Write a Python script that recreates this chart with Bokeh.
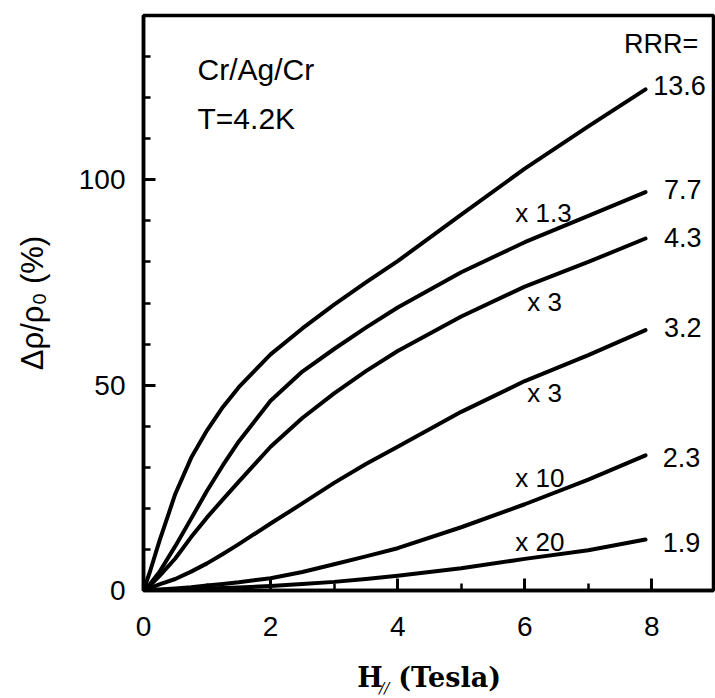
from bokeh.plotting import figure
from bokeh.layouts import column
from bokeh.models import ColumnDataSource, FixedTicker, Range1d
from bokeh.core.properties import value
from bokeh.embed import file_html
from bokeh.resources import INLINE

# Field H (Tesla)
H = [0, 0.1, 0.25, 0.5, 0.75, 1, 1.25, 1.5, 2, 2.5, 3, 3.5, 4, 5, 6, 7, 7.9]
# Delta rho / rho0 (%) for each RRR
rrr_13_6 = [0, 4.5, 12, 23.5, 32.3, 39, 44.7, 49.5, 57.5, 63.8, 69.6, 75, 80.2, 91.5, 102.7, 113, 122]
rrr_7_7 = [0, 1.5, 4.5, 10.8, 17.5, 24.3, 30.5, 36.3, 46.2, 53.3, 58.8, 64, 68.9, 77.5, 84.8, 91.2, 97]
rrr_4_3 = [0, 1.2, 3.5, 7.8, 13, 17.8, 22.2, 26.5, 35, 42, 48, 53.4, 58.3, 66.7, 74, 80, 85.7]
rrr_3_2 = [0, 0.6, 1.5, 2.8, 4.6, 6.6, 8.9, 11.3, 16.3, 21.2, 26.2, 30.8, 35, 43.5, 51, 57.3, 63.4]
rrr_2_3 = [0, 0.1, 0.25, 0.5, 0.8, 1.2, 1.6, 2.0, 3.0, 4.5, 6.4, 8.3, 10.3, 15.4, 21, 27, 32.9]
rrr_1_9 = [0, 0.05, 0.12, 0.25, 0.37, 0.5, 0.62, 0.75, 1.1, 1.6, 2.1, 2.8, 3.6, 5.4, 7.7, 9.8, 12.4]
series = [rrr_13_6, rrr_7_7, rrr_4_3, rrr_3_2, rrr_2_3, rrr_1_9]

# RRR end labels
rrr_text = ["RRR=", "13.6", "7.7", "4.3", "3.2", "2.3", "1.9"]
rrr_x = [7.56, 8.02, 8.19, 8.19, 8.19, 8.17, 8.17]
rrr_y = [133, 123, 97.6, 86, 64, 32.4, 11.7]

# multiplier labels
mult_text = ["x 1.3", "x 3", "x 3", "x 10", "x 20"]
mult_x = [5.85, 6.04, 6.04, 5.85, 5.85]
mult_y = [92, 70.2, 48, 27.3, 11.7]

# header texts
head_text = ["Cr/Ag/Cr", "T=4.2K"]
head_x = [0.85, 0.85]
head_y = [126.8, 115]

x_ticks = [0, 2, 4, 6, 8]
x_minor = [1, 3, 5, 7]
y_ticks = [0, 50, 100]
y_minor = [10, 20, 30, 40, 60, 70, 80, 90, 110, 120, 130]

# x-axis title pieces (H with subscript //, then "(Tesla)")
xt_text = ["H", "(Tesla)"]
xt_x = [3.365, 4.01]
sub_text = ["//"]
sub_x = [3.71]

X0, X1 = 0, 8.97

p = figure(width=715, height=650, output_backend="svg", toolbar_location=None,
           x_range=Range1d(X0, X1), y_range=Range1d(0, 140),
           min_border_left=143, min_border_right=2, min_border_top=15,
           min_border_bottom=60)
p.background_fill_color = "white"
p.border_fill_color = "white"
p.grid.visible = False
p.outline_line_color = "black"
p.outline_line_width = 3.5

for ys in series:
    p.line(H, ys, line_color="black", line_width=4, line_join="round", line_cap="round")

FONT = value("Liberation Sans")
src_r = ColumnDataSource(dict(x=rrr_x, y=rrr_y, t=rrr_text))
p.text(x="x", y="y", text="t", source=src_r, text_font=FONT, text_font_size="27px",
       text_align="left", text_baseline="middle", text_color="black")
src_m = ColumnDataSource(dict(x=mult_x, y=mult_y, t=mult_text))
p.text(x="x", y="y", text="t", source=src_m, text_font=FONT, text_font_size="26px",
       text_align="left", text_baseline="middle", text_color="black")
src_h = ColumnDataSource(dict(x=head_x, y=head_y, t=head_text))
p.text(x="x", y="y", text="t", source=src_h, text_font=FONT, text_font_size="30px",
       text_align="left", text_baseline="middle", text_color="black")

for ax in (p.xaxis[0], p.yaxis[0]):
    ax.axis_line_width = 3.5
    ax.axis_line_color = "black"
    ax.major_tick_in = 12
    ax.major_tick_out = 0
    ax.minor_tick_in = 7
    ax.minor_tick_out = 0
    ax.major_tick_line_width = 3
    ax.minor_tick_line_width = 2.5
    ax.major_tick_line_color = "black"
    ax.minor_tick_line_color = "black"
    ax.major_label_text_font = "Liberation Sans"
    ax.major_label_text_font_size = "28px"
    ax.major_label_text_color = "black"

p.xaxis.ticker = FixedTicker(ticks=x_ticks, minor_ticks=x_minor)
p.yaxis.ticker = FixedTicker(ticks=y_ticks, minor_ticks=y_minor)
p.xaxis.major_label_standoff = 26
p.yaxis.major_label_standoff = 18

p.yaxis.axis_label = "Δρ/ρ₀ (%)"
p.yaxis.axis_label_text_font = "Liberation Sans"
p.yaxis.axis_label_text_font_style = "normal"
p.yaxis.axis_label_text_font_size = "31px"
p.yaxis.axis_label_standoff = 26
p.yaxis.axis_label_text_color = "black"

# strip below holding the x-axis title (so the subscript can be drawn)
p2 = figure(width=715, height=48, output_backend="svg", toolbar_location=None,
            title=None, x_range=Range1d(X0, X1), y_range=Range1d(0, 48),
            x_axis_location=None, y_axis_location=None, min_border=0,
            min_border_left=143, min_border_right=2)
p2.grid.visible = False
p2.outline_line_color = None
p2.background_fill_color = "white"
p2.border_fill_color = "white"
p2.text(x=xt_x, y=[21] * len(xt_x), text=xt_text, text_font=value("DejaVu Serif"),
        text_font_style="bold", text_font_size="27px", text_align="left",
        text_baseline="alphabetic", text_color="black")
p2.text(x=sub_x, y=[11], text=sub_text, text_font=value("DejaVu Serif"),
        text_font_style="italic", text_font_size="15px", text_align="left",
        text_baseline="alphabetic", text_color="black")

layout = column(p, p2, spacing=0)
open("out.html", "w").write(file_html(layout, INLINE))
